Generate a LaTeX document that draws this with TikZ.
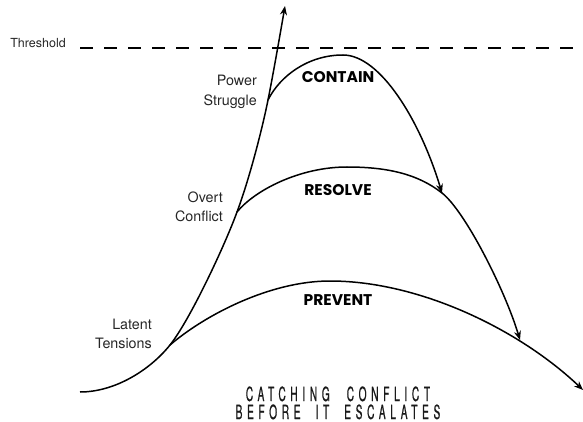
\documentclass[tikz,border=0pt]{standalone}
\usepackage{fontspec}
\usetikzlibrary{arrows.meta}
\setmainfont{TeX Gyre Heros}
\newfontfamily\popfont{Poppins}
\newfontfamily\condfont{TeX Gyre Heros}[FakeStretch=0.52,LetterSpace=24,FakeBold=0.6]
\tikzset{
  curve/.style={line width=1.5pt, black},
  arr/.style={curve, -{Stealth[length=9pt,width=7pt]}},
  thresh/.style={line width=2.2pt, black, dash pattern=on 13pt off 11pt},
  lightlab/.style={font=\fontsize{14.3}{19.5}\selectfont, text=black!85, align=right, inner sep=0pt},
  boldlab/.style={font=\popfont\bfseries\fontsize{15.5}{17}\selectfont, inner sep=0pt},
  caption/.style={font=\condfont\fontsize{19.5}{20}\selectfont, anchor=base, inner sep=0pt, text=black!90}
}
\begin{document}
\begin{tikzpicture}[x=1pt,y=-1pt]
\useasboundingbox (0,0) rectangle (583,422);
% key points
\coordinate (start) at (80,392);
\coordinate (lat) at (170,345);
\coordinate (ovt) at (237,212);
\coordinate (pow) at (268,100);
\coordinate (top) at (285,6);
\coordinate (cpk) at (343,55);
\coordinate (cend) at (442,193);
\coordinate (rpk) at (347,167);
\coordinate (rend) at (520,340);
\coordinate (ppk) at (330,281);
\coordinate (pend) at (583,390);
\coordinate (th1) at (80,48);
\coordinate (th2) at (583,48);
% threshold
\node[lightlab, font=\fontsize{12.5}{15}\selectfont, anchor=east] (thr) at (66,43) {Threshold};
\draw[thresh] (th1) -- (th2);
% main escalation curve
\draw[arr] (start) .. controls (115,392) and (150,370) .. (lat)
  .. controls (190,320) and (225,245) .. (ovt)
  .. controls (249,180) and (262,130) .. (pow)
  .. controls (273,75) and (280,35) .. (top);
% contain
\draw[arr] (pow) .. controls (280,76) and (308,55) .. (cpk)
  .. controls (380,55) and (420,120) .. (cend);
% resolve
\draw[arr] (ovt) .. controls (255,190) and (300,167) .. (rpk)
  .. controls (390,167) and (419,175) .. (cend)
  .. controls (465,211) and (505,290) .. (rend);
% prevent
\draw[arr] (lat) .. controls (205,315) and (270,281) .. (ppk)
  .. controls (420,281) and (520,330) .. (pend);
% labels
\node[lightlab, anchor=east] (powlab) at (257,92) {Power\\Struggle};
\node[lightlab, anchor=east] (ovtlab) at (223,207) {Overt\\Conflict};
\node[lightlab, anchor=east] (latlab) at (152,334) {Latent\\Tensions};
\node[boldlab] (contain) at (338,77) {CONTAIN};
\node[boldlab] (resolve) at (338,190) {RESOLVE};
\node[boldlab] (prevent) at (338,300) {PREVENT};
\node[caption] (cap1) at (338,401) {CATCHING\hspace{17pt}CONFLICT};
\node[caption] (cap2) at (338,419) {BEFORE\hspace{15pt}IT\hspace{15pt}ESCALATES};
\end{tikzpicture}
\end{document}
